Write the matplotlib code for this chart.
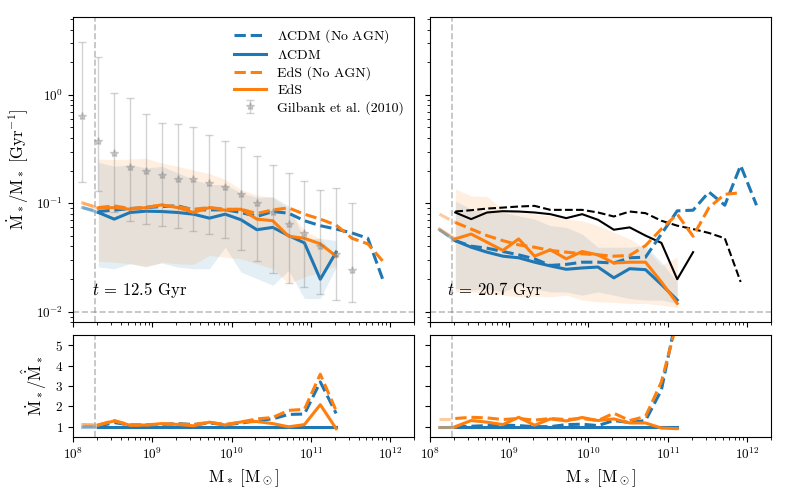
import numpy as np
import matplotlib
matplotlib.use("Agg")
import matplotlib.pyplot as plt

plt.rcParams['font.family'] = 'serif'
plt.rcParams['font.serif'] = ['cmr10', 'DejaVu Serif']
plt.rcParams['mathtext.fontset'] = 'cm'
plt.rcParams['axes.formatter.use_mathtext'] = True

# stellar mass bins (log10 M_sun)
logm = np.array([8.12, 8.32, 8.52, 8.72, 8.92, 9.12, 9.32, 9.52, 9.72, 9.92,
                 10.12, 10.32, 10.52, 10.72, 10.92, 11.12, 11.32, 11.52, 11.72, 11.92, 12.12])
mass = 10 ** logm
m_res = 1.9e8

# t = 12.5 Gyr
lcdm_125 = [0.0912, 0.0822, 0.0714, 0.0822, 0.0845, 0.0839, 0.0822, 0.0793, 0.0729, 0.0793,
            0.0704, 0.0570, 0.0599, 0.0503, 0.0431, 0.0199, 0.0354]
lcdm_noagn_125 = [0.0912, 0.0839, 0.0863, 0.0893, 0.0912, 0.0933, 0.0946, 0.0869, 0.0869, 0.0869,
                  0.0822, 0.0755, 0.0839, 0.0810, 0.0690, 0.0621, 0.0578, 0.0532, 0.0475, 0.0188]
eds_125 = [0.101, 0.0900, 0.0912, 0.0881, 0.0912, 0.0966, 0.0912, 0.0822, 0.0912, 0.0863,
           0.0881, 0.0714, 0.0690, 0.0496, 0.0475, 0.0422, 0.0325]
eds_noagn_125 = [0.100, 0.0912, 0.0946, 0.0893, 0.0919, 0.0959, 0.0926, 0.0881, 0.0912, 0.0881,
                 0.0881, 0.0804, 0.0869, 0.0906, 0.0793, 0.0714, 0.0629, 0.0475, 0.0422, 0.0286]

# scatter bands (from second bin on)
lcdm_hi_125 = [0.239, 0.219, 0.227, 0.212, 0.219, 0.191, 0.166, 0.149, 0.149, 0.125,
               0.113, 0.115, 0.0946, 0.0469, 0.0475, 0.0452]
lcdm_lo_125 = [0.0258, 0.0249, 0.0277, 0.0262, 0.0281, 0.0258, 0.0249, 0.0249, 0.0393, 0.0232,
               0.0202, 0.0175, 0.0240, 0.0132, 0.0132, 0.0258]
eds_hi_125 = [0.256, 0.253, 0.256, 0.260, 0.235, 0.219, 0.202, 0.188, 0.166, 0.134,
              0.119, 0.113, 0.0881, 0.0558, 0.0469, 0.033]
eds_lo_125 = [0.0291, 0.0286, 0.0277, 0.0258, 0.0286, 0.0277, 0.0273, 0.0330, 0.0318, 0.0307,
              0.0277, 0.0249, 0.0182, 0.0209, 0.0232, 0.0267]

# Gilbank et al. (2010)
gil_y = [0.643, 0.372, 0.289, 0.215, 0.198, 0.183, 0.169, 0.169, 0.155, 0.141,
         0.123, 0.101, 0.0822, 0.0638, 0.0532, 0.0407, 0.0342, 0.0240]
gil_hi = [3.05, 2.23, 1.04, 0.939, 0.670, 0.555, 0.535, 0.506, 0.422, 0.374,
          0.332, 0.271, 0.226, 0.191, 0.161, 0.132, 0.139, 0.100]
gil_lo = [0.157, 0.130, 0.0839, 0.0690, 0.0643, 0.0612, 0.0587, 0.0551, 0.0520, 0.0475,
          0.0367, 0.0291, 0.0227, 0.0182, 0.0169, 0.0147, 0.0128, 0.0122]

# t = 20.7 Gyr
lcdm_207 = [0.0570, 0.0452, 0.0393, 0.0354, 0.0325, 0.0314, 0.0286, 0.0264, 0.0246, 0.0253,
            0.0258, 0.0205, 0.0249, 0.0244, 0.0178, 0.0128]
lcdm_noagn_207 = [0.0570, 0.0452, 0.0402, 0.0385, 0.0359, 0.0334, 0.0307, 0.0267, 0.0273, 0.0286,
                  0.0286, 0.0281, 0.0314, 0.0318, 0.0520, 0.0851, 0.0863, 0.127, 0.0959, 0.223, 0.0959]
eds_207 = [0.0578, 0.0469, 0.0520, 0.0437, 0.0367, 0.0469, 0.0325, 0.0372, 0.0307, 0.0359,
           0.0334, 0.0281, 0.0286, 0.0286, 0.0188, 0.0119]
eds_noagn_207 = [0.0793, 0.0665, 0.0578, 0.0503, 0.0452, 0.0413, 0.0393, 0.0367, 0.0354, 0.0342,
                 0.0334, 0.0325, 0.0330, 0.0407, 0.0578, 0.0793, 0.0496, 0.0912, 0.121, 0.125]

lcdm_hi_207 = [0.105, 0.0881, 0.0822, 0.0822, 0.0766, 0.0714, 0.0621, 0.0599, 0.0520, 0.0393,
               0.0393, 0.0393, 0.0407, 0.0286, 0.0188]
lcdm_lo_207 = [0.0163, 0.0158, 0.0163, 0.0152, 0.0175, 0.0163, 0.0152, 0.0152, 0.0142, 0.0152,
               0.0142, 0.0132, 0.0128, 0.0128, 0.0119]
eds_hi_207 = [0.136, 0.117, 0.115, 0.0881, 0.0822, 0.0793, 0.0766, 0.0714, 0.0690, 0.0621,
              0.0539, 0.0469, 0.0380, 0.0267, 0.0318]
eds_lo_207 = [0.0152, 0.0152, 0.0147, 0.0142, 0.0137, 0.0139, 0.0137, 0.0142, 0.0128, 0.0123,
              0.0122, 0.0119, 0.0119, 0.0115, 0.0109]

# ratios to the fiducial LCDM run
r_lcdm_125 = [1.0] * 17
r_lcdm_noagn_125 = [1.0, 1.02, 1.2, 1.08, 1.08, 1.1, 1.15, 1.1, 1.18, 1.1,
                    1.17, 1.3, 1.38, 1.6, 1.62, 3.2, 1.65]
r_eds_noagn_125 = [1.1, 1.08, 1.3, 1.08, 1.08, 1.12, 1.13, 1.1, 1.22, 1.1,
                   1.23, 1.38, 1.45, 1.8, 1.85, 3.58, 1.78]
r_eds_125 = [1.1, 1.08, 1.28, 1.07, 1.08, 1.15, 1.11, 1.04, 1.22, 1.08,
             1.23, 1.25, 1.15, 0.99, 1.1, 2.08, 0.9]

r_lcdm_207 = [1.0] * 16
r_lcdm_noagn_207 = [1.0, 1.0, 1.02, 1.05, 1.08, 1.05, 1.0, 1.0, 1.1, 1.12,
                    1.05, 1.3, 1.2, 1.3, 2.8, 6.6]
r_eds_noagn_207 = [1.4, 1.4, 1.46, 1.43, 1.35, 1.4, 1.32, 1.4, 1.35, 1.4,
                   1.3, 1.66, 1.3, 1.5, 3.2, 6.2]
r_eds_207 = [1.0, 1.0, 1.3, 1.22, 1.1, 1.46, 1.07, 1.38, 1.28, 1.45,
             1.3, 1.38, 1.18, 1.18, 0.93, 0.9]


def curve(ax, y, color, ls, label=None, lw=2.2):
    x = mass[:len(y)]
    ax.plot(x[:2], y[:2], color=color, ls=ls, lw=lw, alpha=0.4)
    ax.plot(x[1:], y[1:], color=color, ls=ls, lw=lw, label=label)


fig = plt.figure(figsize=(7.89, 4.93), dpi=100)
gs = fig.add_gridspec(2, 2, height_ratios=[3, 1], left=0.0925, right=0.977,
                      top=0.965, bottom=0.114, hspace=0.064, wspace=0.047)
ax1 = fig.add_subplot(gs[0, 0])
ax2 = fig.add_subplot(gs[0, 1], sharey=ax1, sharex=ax1)
ax3 = fig.add_subplot(gs[1, 0], sharex=ax1)
ax4 = fig.add_subplot(gs[1, 1], sharex=ax1, sharey=ax3)

# left top
ax1.fill_between(mass[1:17], lcdm_lo_125, lcdm_hi_125, color='C0', alpha=0.12, lw=0)
ax1.fill_between(mass[1:17], eds_lo_125, eds_hi_125, color='C1', alpha=0.12, lw=0)
curve(ax1, lcdm_noagn_125, 'C0', '--', r'$\Lambda$CDM (No AGN)')
curve(ax1, lcdm_125, 'C0', '-', r'$\Lambda$CDM')
curve(ax1, eds_noagn_125, 'C1', '--', 'EdS (No AGN)')
curve(ax1, eds_125, 'C1', '-', 'EdS')
gy = np.array(gil_y)
ax1.errorbar(mass[:18], gy, yerr=[gy - np.array(gil_lo), np.array(gil_hi) - gy],
             fmt='*', color='gray', alpha=0.35, ms=6, capsize=3, elinewidth=1,
             label='Gilbank et al. (2010)')
ax1.text(0.055, 0.09, r'$t$ = 12.5 Gyr', transform=ax1.transAxes, fontsize=12)

# right top
ax2.fill_between(mass[1:16], lcdm_lo_207, lcdm_hi_207, color='C0', alpha=0.12, lw=0)
ax2.fill_between(mass[1:16], eds_lo_207, eds_hi_207, color='C1', alpha=0.12, lw=0)
ax2.plot(mass[1:17], lcdm_125[1:], color='k', lw=1.5)
ax2.plot(mass[1:20], lcdm_noagn_125[1:], color='k', ls='--', lw=1.5)
curve(ax2, lcdm_noagn_207, 'C0', '--')
curve(ax2, lcdm_207, 'C0', '-')
curve(ax2, eds_noagn_207, 'C1', '--')
curve(ax2, eds_207, 'C1', '-')
ax2.text(0.05, 0.09, r'$t$ = 20.7 Gyr', transform=ax2.transAxes, fontsize=12)

# ratio panels
curve(ax3, r_lcdm_noagn_125, 'C0', '--')
curve(ax3, r_lcdm_125, 'C0', '-')
curve(ax3, r_eds_noagn_125, 'C1', '--')
curve(ax3, r_eds_125, 'C1', '-')
curve(ax4, r_lcdm_noagn_207, 'C0', '--')
curve(ax4, r_lcdm_207, 'C0', '-')
curve(ax4, r_eds_noagn_207, 'C1', '--')
curve(ax4, r_eds_207, 'C1', '-')

for ax in (ax1, ax2):
    ax.axhline(1e-2, color='gray', ls='--', lw=1.2, alpha=0.5)
for ax in (ax1, ax2, ax3, ax4):
    ax.axvline(m_res, color='gray', ls='--', lw=1.2, alpha=0.5)
    ax.tick_params(labelsize=9.5)

ax1.set_xscale('log')
ax1.set_yscale('log')
ax1.set_xlim(1e8, 2e12)
ax1.set_ylim(8e-3, 5.2)
ax3.set_ylim(0.5, 5.5)
ax3.set_yticks([1, 2, 3, 4, 5])
ax1.set_xticks([1e8, 1e9, 1e10, 1e11, 1e12])

plt.setp(ax1.get_xticklabels(), visible=False)
plt.setp(ax2.get_xticklabels(), visible=False)
plt.setp(ax2.get_yticklabels(), visible=False)
plt.setp(ax4.get_yticklabels(), visible=False)

ax1.set_ylabel(r'$\dot{\rm M}_*/{\rm M}_*\ [{\rm Gyr}^{-1}]$', fontsize=12)
ax3.set_ylabel(r'$\dot{\rm M}_*/\hat{\dot{\rm M}}_*$', fontsize=12)
ax3.set_xlabel(r'${\rm M}_*\ [{\rm M}_\odot]$', fontsize=12)
ax4.set_xlabel(r'${\rm M}_*\ [{\rm M}_\odot]$', fontsize=12)

ax1.legend(loc='upper right', frameon=False, fontsize=10, handlelength=2.3,
           labelspacing=0.3, borderaxespad=0.3)

fig.savefig('out.png', dpi=100)
